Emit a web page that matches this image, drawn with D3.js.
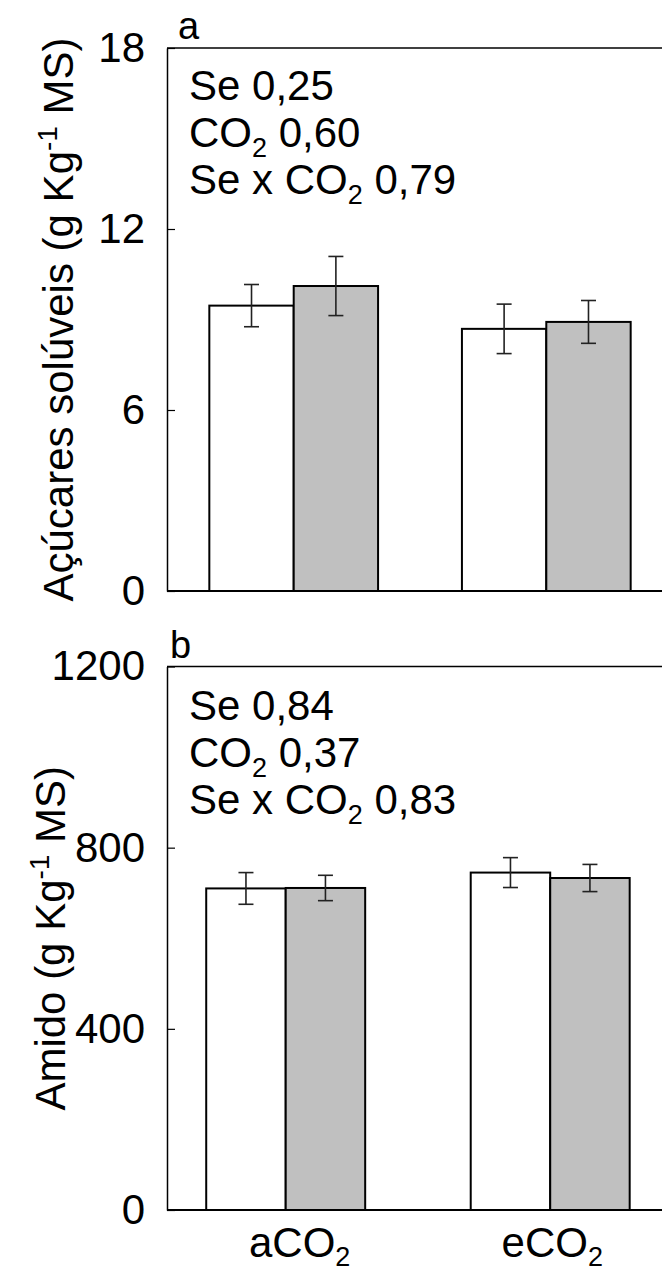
<!DOCTYPE html>
<html>
<head>
<meta charset="utf-8">
<script src="https://cdn.jsdelivr.net/npm/d3@7/dist/d3.min.js"></script>
<style>
  html, body { margin: 0; padding: 0; background: #fff; }
  svg { display: block; }
  text { font-family: "Liberation Sans", Arial, sans-serif; fill: #000; }
</style>
</head>
<body>
<svg id="chart" width="662" height="1275"></svg>
<script>
// ---------------- DATA ----------------
const categories = ["aCO2", "eCO2"];
const categoryBase = ["aCO", "eCO"];
const series = ["controle", "Se"];

// panel a: açúcares solúveis (g Kg-1 MS)
const sugarControl = [9.46, 8.69];
const sugarControlErr = [0.70, 0.82];
const sugarSe = [10.11, 8.92];
const sugarSeErr = [0.98, 0.71];
const sugarTicks = [0, 6, 12, 18];
const sugarP = ["0,25", "0,60", "0,79"];

// panel b: amido (g Kg-1 MS)
const starchControl = [710, 745];
const starchControlErr = [35, 33];
const starchSe = [711, 733];
const starchSeErr = [28, 30];
const starchTicks = [0, 400, 800, 1200];
const starchP = ["0,84", "0,37", "0,83"];

// ---------------- DRAW ----------------
const W = 662;
const svg = d3.select("#chart");
const FS = 42;

function drawPanel(cfg) {
  const g = svg.append("g");
  const y = d3.scaleLinear().domain([0, cfg.max]).range([cfg.bottom, cfg.top]);
  const x = d3.scaleBand().domain(categories).range(cfg.xRange)
    .paddingInner(cfg.pad).paddingOuter(cfg.pad / 2);
  const xs = d3.scaleBand().domain(series).range([0, x.bandwidth()]);
  const fills = { controle: "#ffffff", Se: "#c0c0c0" };

  const rows = [];
  categories.forEach((c, i) => {
    rows.push({ cat: c, s: "controle", v: cfg.ctrl[i], e: cfg.ctrlErr[i] });
    rows.push({ cat: c, s: "Se", v: cfg.se[i], e: cfg.seErr[i] });
  });

  // bars
  g.selectAll("rect.bar").data(rows).join("rect")
    .attr("class", "bar")
    .attr("x", d => x(d.cat) + xs(d.s))
    .attr("y", d => y(d.v))
    .attr("width", xs.bandwidth())
    .attr("height", d => y(0) - y(d.v))
    .attr("fill", d => fills[d.s])
    .attr("stroke", "#000")
    .attr("stroke-width", 2);

  // error bars
  const cap = 7.5;
  const eb = g.selectAll("g.err").data(rows).join("g").attr("class", "err")
    .attr("stroke", "#222").attr("stroke-width", 1.6);
  eb.append("line")
    .attr("x1", d => x(d.cat) + xs(d.s) + xs.bandwidth() / 2)
    .attr("x2", d => x(d.cat) + xs(d.s) + xs.bandwidth() / 2)
    .attr("y1", d => y(d.v + d.e)).attr("y2", d => y(d.v - d.e));
  ["+", "-"].forEach(sg => {
    eb.append("line")
      .attr("x1", d => x(d.cat) + xs(d.s) + xs.bandwidth() / 2 - cap)
      .attr("x2", d => x(d.cat) + xs(d.s) + xs.bandwidth() / 2 + cap)
      .attr("y1", d => y(sg === "+" ? d.v + d.e : d.v - d.e))
      .attr("y2", d => y(sg === "+" ? d.v + d.e : d.v - d.e));
  });

  // frame lines (top and bottom)
  g.append("line").attr("x1", cfg.left).attr("x2", W)
    .attr("y1", y(cfg.max)).attr("y2", y(cfg.max))
    .attr("stroke", "#000").attr("stroke-width", 1.5);
  g.append("line").attr("x1", cfg.left).attr("x2", W)
    .attr("y1", y(0)).attr("y2", y(0))
    .attr("stroke", "#000").attr("stroke-width", 1.8);

  // y axis
  const ax = g.append("g").attr("transform", `translate(${cfg.left},0)`)
    .call(d3.axisLeft(y).tickValues(cfg.ticks).tickFormat(d3.format("d"))
      .tickSizeInner(-8).tickSizeOuter(0).tickPadding(22));
  ax.select(".domain").attr("stroke", "#000").attr("stroke-width", 1.5);
  ax.selectAll(".tick line").attr("stroke", "#000").attr("stroke-width", 1.2);
  ax.selectAll(".tick text").attr("font-size", FS)
    .attr("font-family", '"Liberation Sans", Arial, sans-serif').attr("fill", "#000");

  // panel letter
  g.append("text").attr("x", cfg.left + cfg.letterDx).attr("y", y(cfg.max) - 9)
    .attr("font-size", 38).text(cfg.letter);

  // stats annotation
  const names = [[["Se", null]], [["CO", "2"]], [["Se x CO", "2"]]];
  names.forEach((parts, i) => {
    const t = g.append("text").attr("x", cfg.left + 22)
      .attr("y", y(cfg.max) + cfg.statY0 + i * 47).attr("font-size", FS);
    parts.forEach(([base, sub]) => {
      t.append("tspan").text(base);
      if (sub) {
        t.append("tspan").attr("font-size", 27).attr("dy", 10).text(sub);
        t.append("tspan").attr("dy", -10).text(" " + cfg.p[i]);
      } else {
        t.append("tspan").text(" " + cfg.p[i]);
      }
    });
  });

  // y title
  const tt = g.append("text")
    .attr("transform", `translate(${cfg.titleX},${(y(0) + y(cfg.max)) / 2}) rotate(-90)`)
    .attr("text-anchor", "middle").attr("font-size", FS);
  tt.append("tspan").text(cfg.title + " (g Kg");
  tt.append("tspan").attr("font-size", 28).attr("dy", -16).text("-1");
  tt.append("tspan").attr("dy", 16).text(" MS)");

  return { x, y };
}

const pa = drawPanel({
  letter: "a", letterDx: 11, max: 18, ticks: sugarTicks, top: 48, bottom: 591, left: 167,
  xRange: [167.4, 672.6], pad: 0.332,
  ctrl: sugarControl, ctrlErr: sugarControlErr, se: sugarSe, seErr: sugarSeErr,
  p: sugarP, statY0: 52, title: "Açúcares solúveis", titleX: 73
});

const pb = drawPanel({
  letter: "b", letterDx: 3, max: 1200, ticks: starchTicks, top: 666.5, bottom: 1210, left: 167,
  xRange: [153.45, 682.45], pad: 0.399,
  ctrl: starchControl, ctrlErr: starchControlErr, se: starchSe, seErr: starchSeErr,
  p: starchP, statY0: 53, title: "Amido", titleX: 65
});

// x category labels
categories.forEach((c, i) => {
  const t = svg.append("text")
    .attr("x", pa.x(c) + pa.x.bandwidth() / 2 + 6)
    .attr("y", 1257).attr("text-anchor", "middle").attr("font-size", FS);
  t.append("tspan").text(categoryBase[i]);
  t.append("tspan").attr("font-size", 27).attr("dy", 9).text("2");
});
</script>
</body>
</html>
